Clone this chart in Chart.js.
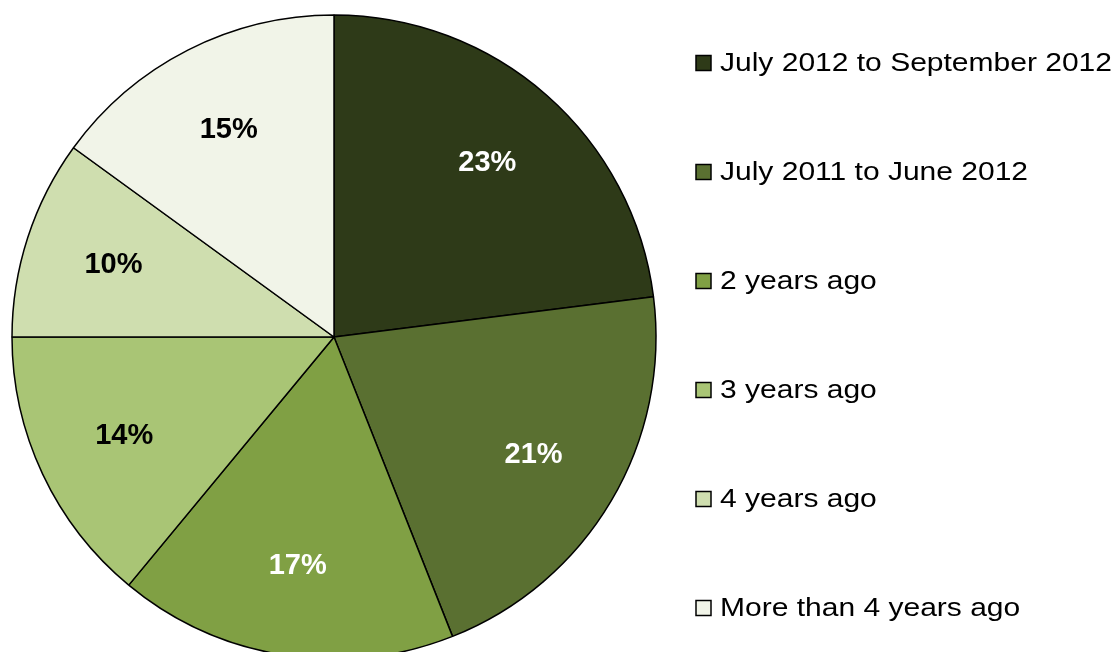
<!DOCTYPE html>
<html>
<head>
<meta charset="utf-8">
<script src="https://cdn.jsdelivr.net/npm/chart.js"></script>
<style>
  html, body { margin: 0; padding: 0; background: #fff; overflow: hidden; }
  #wrap { width: 1120px; height: 652px; position: relative; }
</style>
</head>
<body>
<div id="wrap"><canvas id="pie" width="1120" height="652"></canvas></div>
<script>
// Periods and share of respondents (%)
var periods = ['July 2012 to September 2012', 'July 2011 to June 2012', '2 years ago', '3 years ago', '4 years ago', 'More than 4 years ago'];
var shares = [23, 21, 17, 14, 10, 15];
var slice_colors = ['#2E3A18', '#5A7031', '#80A044', '#A9C575', '#CFDEAF', '#F1F4E8'];
var label_colors = ['#FFFFFF', '#FFFFFF', '#FFFFFF', '#000000', '#000000', '#000000'];

var font_family = "'Liberation Sans', Arial, sans-serif";

// Percent labels inside each slice
var sliceLabels = {
  id: 'sliceLabels',
  afterDatasetsDraw: function(chart) {
    var ctx = chart.ctx;
    var meta = chart.getDatasetMeta(0);
    ctx.save();
    ctx.font = 'bold 29px ' + font_family;
    ctx.textAlign = 'center';
    ctx.textBaseline = 'middle';
    meta.data.forEach(function(arc, i) {
      var p = arc.getProps(['x', 'y', 'startAngle', 'endAngle', 'outerRadius'], true);
      var mid = (p.startAngle + p.endAngle) / 2;
      var r = p.outerRadius * 0.72;
      ctx.fillStyle = label_colors[i];
      ctx.fillText(shares[i] + '%', p.x + Math.cos(mid) * r, p.y + Math.sin(mid) * r);
    });
    ctx.restore();
  }
};

// Legend down the right side
var sideLegend = {
  id: 'sideLegend',
  afterDraw: function(chart) {
    var ctx = chart.ctx;
    var x0 = 696, y0 = 63, step = 109, box = 15;
    ctx.save();
    ctx.font = '26px ' + font_family;
    ctx.textBaseline = 'middle';
    ctx.textAlign = 'left';
    periods.forEach(function(name, i) {
      var y = y0 + i * step;
      ctx.fillStyle = slice_colors[i];
      ctx.fillRect(x0, y - box / 2, box, box);
      ctx.lineWidth = 1.5;
      ctx.strokeStyle = '#000';
      ctx.strokeRect(x0, y - box / 2, box, box);
      ctx.save();
      ctx.translate(x0 + 24, y + 1);
      ctx.scale(1.154, 1);
      ctx.fillStyle = '#000';
      ctx.fillText(name, 0, 0);
      ctx.restore();
    });
    ctx.restore();
  }
};

new Chart(document.getElementById('pie'), {
  type: 'pie',
  data: {
    labels: periods,
    datasets: [{
      data: shares,
      backgroundColor: slice_colors,
      borderColor: '#000000',
      borderWidth: 1.5,
      clip: false
    }]
  },
  options: {
    responsive: false,
    animation: false,
    radius: 322,
    layout: { padding: { left: 0, right: 452, top: 22, bottom: 0 } },
    plugins: {
      legend: { display: false },
      tooltip: { enabled: false }
    }
  },
  plugins: [sliceLabels, sideLegend]
});
</script>
</body>
</html>
